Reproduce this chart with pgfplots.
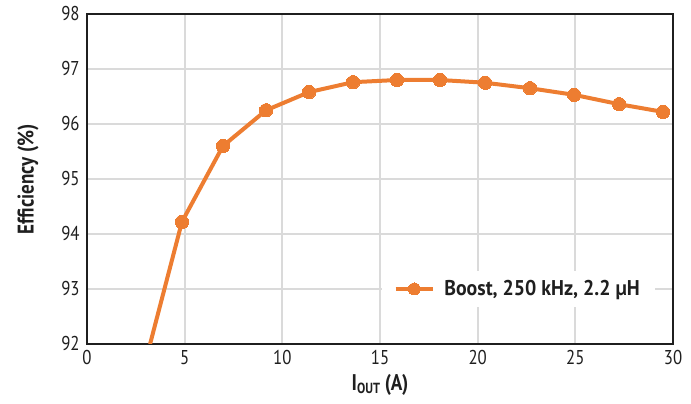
\documentclass[border=0pt]{standalone}
\usepackage{fontspec}
\setmainfont{PT Sans}[FakeStretch=0.84]
\newfontfamily\legfont{PT Sans}[FakeStretch=0.93]
\usepackage{pgfplots}
\pgfplotsset{compat=1.18}
\definecolor{boost}{RGB}{237,125,49}
\definecolor{gridc}{RGB}{218,218,218}

\begin{document}
\begin{tikzpicture}
\begin{axis}[
  name=ax,
  scale only axis,
  width=439.5pt, height=247.5pt,
  xmin=0, xmax=30, ymin=92, ymax=98,
  xtick={0,5,...,30}, ytick={92,93,...,98},
  grid=major,
  grid style={gridc, line width=1.4pt},
  axis line style={line width=1.9pt, black!88},
  major tick length=0pt,
  tick label style={font=\fontsize{15}{15}\selectfont, text=black!88},
  /pgf/number format/assume math mode=true,
  yticklabel style={xshift=-2pt},
  xticklabel style={yshift=-1pt},
  xlabel={\textbf{I\raisebox{-0.3ex}{\fontsize{11}{11}\selectfont\bfseries OUT} (A)}},
  xlabel style={at={(axis description cs:0.5,-0.124)}, anchor=center,
    font=\fontsize{17}{17}\selectfont, text=black!88},
  ylabel={\textbf{Efficiency (\%)}},
  ylabel style={at={(axis description cs:-0.1007,0.5)}, anchor=center,
    font=\fontsize{17}{17}\selectfont, text=black!88},
  legend style={at={(axis cs:22.07,93)}, anchor=center, draw=none,
    fill=white, font=\legfont\fontsize{16}{16}\selectfont\bfseries,
    text=black!88, inner xsep=9pt, inner ysep=5pt},
  legend image code/.code={
    \draw[#1, mark=none] (0pt,0pt) -- (28pt,0pt);
    \path[#1, mark size=4.5pt] plot coordinates {(14pt,0pt)};
    \path (33pt,0pt);},
]
\addplot[boost, line width=3pt, forget plot]
  coordinates {(3.23,92)(4.86,94.22)};
\addplot[boost, line width=3pt, mark=*, mark size=5pt,
  mark options={solid, fill=boost, line width=0pt}]
  coordinates {(4.86,94.22)(6.96,95.6)(9.17,96.25)(11.37,96.58)
    (13.62,96.76)(15.87,96.8)(18.07,96.8)(20.38,96.75)(22.68,96.65)
    (24.94,96.53)(27.24,96.36)(29.49,96.22)};
\addlegendentry{Boost, 250 kHz, 2.2 µH}
\end{axis}
\pgfresetboundingbox
\path (ax.south west) ++(-65.25pt,-45pt) (ax.north east) ++(13.5pt,10.5pt);
\end{tikzpicture}
\end{document}
